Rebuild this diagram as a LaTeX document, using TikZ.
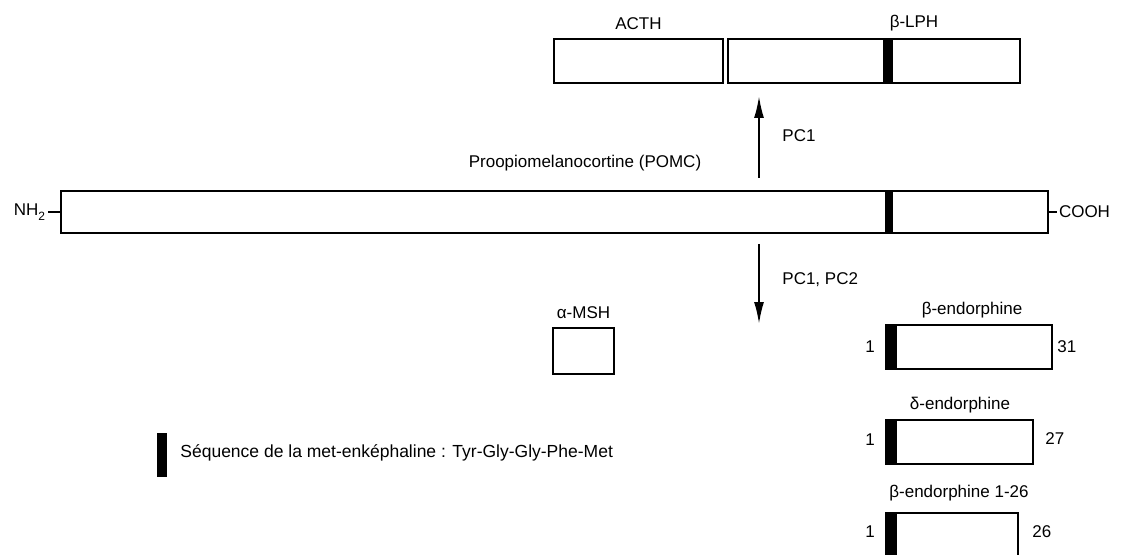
\documentclass[tikz,border=0pt]{standalone}
\usepackage{fontspec}
\setmainfont{Liberation Sans}
\usetikzlibrary{arrows.meta, positioning}

\tikzset{
  kette/.style={draw, line width=1pt, inner sep=0pt, anchor=north west, minimum height=22pt},
  balken/.style={fill=black, draw=none, inner sep=0pt, anchor=north west, minimum width=5pt, minimum height=22pt},
  pfeil/.style={line width=1pt, -{Latex[length=11pt,width=5pt]}},
  etikett/.style={inner sep=1pt, font=\fontsize{8.5}{10}\selectfont},
}

\begin{document}
\begin{tikzpicture}[x=0.5pt, y=-0.5pt]
  \useasboundingbox (0,0) rectangle (1122,555);

  % Produits du clivage par PC1
  \node[kette, minimum width=84.5pt] (acth) at (553,38) {};
  \node[kette, minimum width=146pt] (lph) at (727,38) {};
  \node[balken] (lphmet) at (883,38) {};
  \node[etikett, above=3pt of acth] (acthtxt) {ACTH};
  \node[etikett] (lphtxt) at (914,23) {β-LPH};

  % Précurseur POMC
  \node[kette, minimum width=493.5pt, minimum height=21pt] (pomc) at (60,190) {};
  \node[balken, minimum width=4pt, minimum height=21pt] (pomcmet) at (885,190) {};
  \node[etikett] (pomctxt) at (585,163) {Proopiomelanocortine (POMC)};
  \draw[line width=1pt] (pomc.west) -- ++(-12,0) node[etikett, left] (nh) {NH\raisebox{-0.6ex}{\fontsize{6}{6}\selectfont 2}};
  \draw[line width=1pt] (pomc.east) -- ++(8,0) node[etikett, right, inner sep=0.5pt] (cooh) {COOH};

  % Clivages
  \coordinate (spalt) at (759,0);
  \draw[pfeil] ([yshift=6pt]pomc.north -| spalt) -- ([yshift=-6pt]lph.south -| spalt);
  \draw[pfeil] ([yshift=-5pt]pomc.south -| spalt) -- ([yshift=-45pt]pomc.south -| spalt);
  \node[etikett, anchor=west] (pcup) at (780,136) {PC1};
  \node[etikett, anchor=west] (pcdown) at (780,280) {PC1, PC2};

  % alpha-MSH
  \node[kette, minimum width=30.5pt, minimum height=23pt] (msh) at (552,327) {};
  \node[etikett, above=3pt of msh] (mshtxt) {α-MSH};

  % Endorphines
  \node[kette, minimum width=83pt] (bend) at (885,324) {};
  \node[balken, minimum width=6pt] (bendmet) at (885,324) {};
  \node[etikett] (bendtxt) at (972,310) {β-endorphine};
  \node[etikett] (bendeins) at (870,347) {1};
  \node[etikett, anchor=west] (bendend) at (1055,347) {31};

  \node[kette, minimum width=73.5pt] (dend) at (885,419) {};
  \node[balken, minimum width=6pt] (dendmet) at (885,419) {};
  \node[etikett] (dendtxt) at (960,405) {δ-endorphine};
  \node[etikett] (dendeins) at (870,440) {1};
  \node[etikett, anchor=west] (dendend) at (1043,439) {27};

  \node[kette, minimum width=66pt, minimum height=23pt] (kend) at (885,512) {};
  \node[balken, minimum width=6pt, minimum height=23pt] (kendmet) at (885,512) {};
  \node[etikett] (kendtxt) at (959,493) {β-endorphine 1-26};
  \node[etikett] (kendeins) at (870,532) {1};
  \node[etikett, anchor=west] (kendend) at (1030,532) {26};

  % Légende
  \node[balken] (legmet) at (157,433) {};
  \node[etikett, anchor=west, font=\fontsize{8.75}{10}\selectfont] (legtxt) at (178,453) {Séquence de la met-enképhaline : Tyr-Gly-Gly-Phe-Met};
\end{tikzpicture}
\end{document}
